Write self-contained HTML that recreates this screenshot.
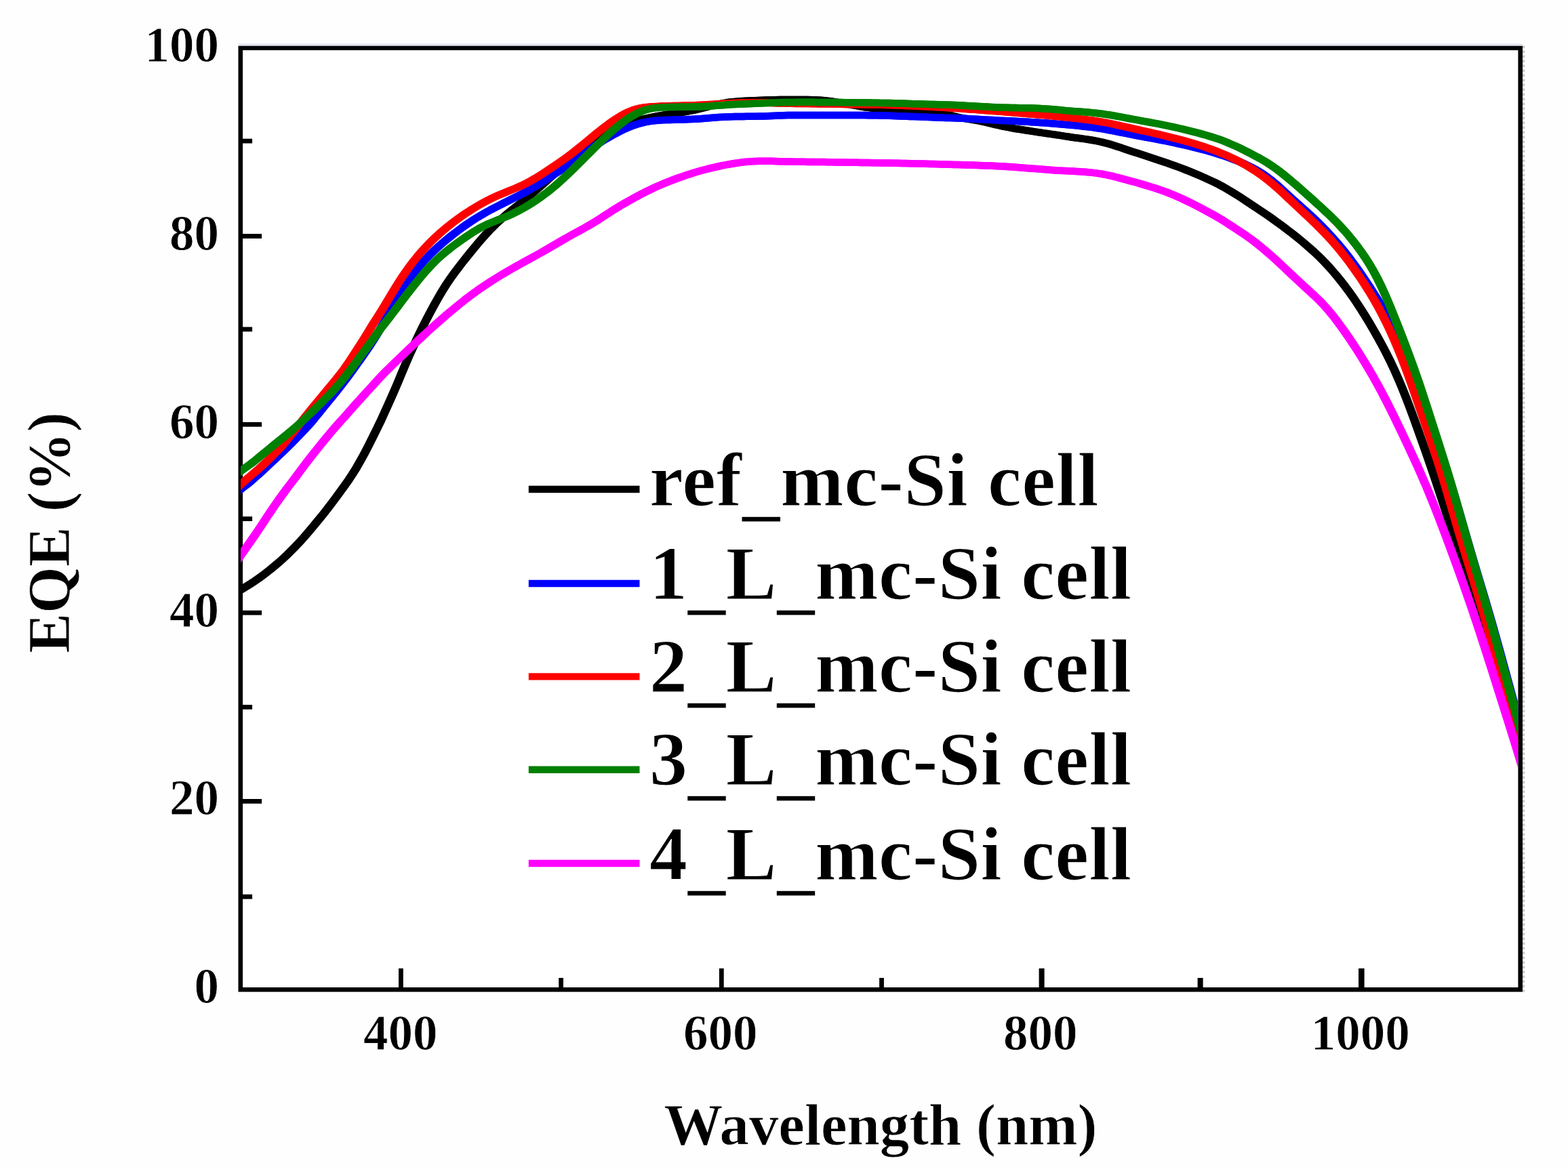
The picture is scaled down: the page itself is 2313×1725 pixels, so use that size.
<!DOCTYPE html>
<html lang="en">
<head>
<meta charset="utf-8">
<title>EQE vs Wavelength</title>
<style>
html,body{margin:0;padding:0;background:#fefefe;}
body{width:2313px;height:1725px;overflow:hidden;}
svg{display:block;}
text{font-family:'Liberation Serif','Times New Roman',Times,serif;font-weight:bold;fill:#000;stroke:#fefefe;stroke-width:0.8px;}
.tick{font-size:73px;}
.leg{font-size:112px;stroke:#ffffff;stroke-width:1.2px;}
.ttl{font-size:89px;}
</style>
</head>
<body>
<svg width="2313" height="1725" viewBox="0 0 2313 1725">
<rect x="0" y="0" width="2313" height="1725" fill="#fefefe"/>
<rect x="358" y="74" width="1881" height="1383" fill="#ffffff"/>

<rect x="354.8" y="70.8" width="1887.9" height="1389.5" fill="none" stroke="#000" stroke-width="6.6"/>
<g fill="#000"><rect x="354.8" y="204.7" width="17.3" height="6.8"/><rect x="354.8" y="345.1" width="31.3" height="6.8"/><rect x="354.8" y="482.5" width="17.3" height="6.8"/><rect x="354.8" y="622.9" width="31.3" height="6.8"/><rect x="354.8" y="762.2" width="17.3" height="6.8"/><rect x="354.8" y="900.8" width="31.3" height="6.8"/><rect x="354.8" y="1040.0" width="17.3" height="6.8"/><rect x="354.8" y="1179.0" width="31.3" height="6.8"/><rect x="354.8" y="1319.8" width="17.3" height="6.8"/><rect x="588.0" y="1429.0" width="6.8" height="31.3"/><rect x="824.2" y="1443.0" width="6.8" height="17.3"/><rect x="1060.9" y="1429.0" width="6.8" height="31.3"/><rect x="1297.1" y="1443.0" width="6.8" height="17.3"/><rect x="1532.6" y="1429.0" width="8.0" height="31.3"/><rect x="1766.6" y="1443.0" width="8.0" height="17.3"/><rect x="2004.0" y="1429.0" width="8.6" height="31.3"/></g>
<line x1="2247.6" y1="67.5" x2="2247.6" y2="1463.6" stroke="#c4c4c4" stroke-width="3" stroke-dasharray="3.5 3.5"/>
<line x1="351.5" y1="66" x2="2246" y2="66" stroke="#e4e2f0" stroke-width="3"/>
<clipPath id="c"><rect x="355.2" y="60" width="1884" height="1400"/></clipPath>
<defs>
<path id="c-black" d="M340.0,878.9 346.0,875.5 352.0,872.1 358.0,868.6 364.0,865.0 370.0,861.2 376.0,857.3 382.0,853.1 388.0,848.7 394.0,844.1 400.0,839.4 406.0,834.4 412.0,829.3 418.0,823.9 424.0,818.3 430.0,812.3 436.0,806.2 442.0,799.8 448.0,793.2 454.0,786.3 460.0,779.2 466.0,771.9 472.0,764.6 478.0,757.2 484.0,749.5 490.0,741.6 496.0,733.6 502.0,725.4 508.0,717.2 514.0,708.7 520.0,699.6 526.0,689.9 532.0,679.4 538.0,668.4 544.0,656.8 550.0,644.9 556.0,632.7 562.0,620.4 568.0,607.2 574.0,593.8 580.0,580.4 586.0,566.5 592.0,552.1 598.0,537.8 604.0,523.8 610.0,510.8 616.0,498.1 622.0,485.6 628.0,473.7 634.0,462.1 640.0,450.9 646.0,440.2 652.0,430.0 658.0,420.4 664.0,411.5 670.0,403.1 676.0,395.2 682.0,387.4 688.0,379.9 694.0,372.4 700.0,365.1 706.0,357.9 712.0,351.0 718.0,344.3 724.0,338.0 730.0,332.0 736.0,326.3 742.0,320.9 748.0,315.8 754.0,310.9 760.0,306.2 766.0,301.5 772.0,296.7 778.0,291.7 784.0,286.6 790.0,281.4 796.0,276.1 802.0,270.8 808.0,265.4 814.0,259.9 820.0,254.3 826.0,248.6 832.0,242.9 838.0,237.1 844.0,231.4 850.0,225.8 856.0,220.6 862.0,215.7 868.0,211.1 874.0,207.0 880.0,203.2 886.0,199.8 892.0,196.6 898.0,193.6 904.0,190.8 910.0,188.2 916.0,185.8 922.0,183.5 928.0,181.5 934.0,179.6 940.0,177.9 946.0,176.3 952.0,174.9 958.0,173.6 964.0,172.4 970.0,171.2 976.0,170.2 982.0,169.2 988.0,168.3 994.0,167.4 1000.0,166.6 1006.0,165.7 1012.0,164.8 1018.0,163.7 1024.0,162.5 1030.0,161.2 1036.0,159.7 1042.0,158.1 1048.0,156.5 1054.0,155.0 1060.0,153.6 1066.0,152.4 1072.0,151.3 1078.0,150.5 1084.0,149.9 1090.0,149.4 1096.0,149.0 1102.0,148.7 1108.0,148.4 1114.0,148.2 1120.0,148.0 1126.0,147.8 1132.0,147.6 1138.0,147.4 1144.0,147.2 1150.0,147.0 1156.0,146.9 1162.0,146.9 1168.0,146.9 1174.0,146.9 1180.0,146.9 1186.0,147.0 1192.0,147.1 1198.0,147.2 1204.0,147.4 1210.0,147.8 1216.0,148.3 1222.0,148.9 1228.0,149.8 1234.0,150.7 1240.0,151.8 1246.0,152.9 1252.0,154.0 1258.0,155.1 1264.0,156.2 1270.0,157.3 1276.0,158.2 1282.0,159.0 1288.0,159.7 1294.0,160.3 1300.0,160.7 1306.0,161.1 1312.0,161.5 1318.0,161.8 1324.0,162.1 1330.0,162.4 1336.0,162.7 1342.0,163.1 1348.0,163.4 1354.0,163.8 1360.0,164.2 1366.0,164.7 1372.0,165.2 1378.0,165.9 1384.0,166.7 1390.0,167.7 1396.0,168.8 1402.0,170.2 1408.0,171.6 1414.0,173.0 1420.0,174.3 1426.0,175.4 1432.0,176.4 1438.0,177.3 1444.0,178.3 1450.0,179.5 1456.0,180.8 1462.0,182.3 1468.0,183.8 1474.0,185.2 1480.0,186.5 1486.0,187.7 1492.0,188.8 1498.0,190.0 1504.0,190.9 1510.0,191.8 1516.0,192.7 1522.0,193.6 1528.0,194.6 1534.0,195.5 1540.0,196.4 1546.0,197.3 1552.0,198.1 1558.0,199.0 1564.0,199.9 1570.0,200.9 1576.0,201.8 1582.0,202.7 1588.0,203.5 1594.0,204.3 1600.0,205.1 1606.0,206.0 1612.0,207.0 1618.0,208.1 1624.0,209.3 1630.0,210.8 1636.0,212.4 1642.0,214.2 1648.0,216.2 1654.0,218.1 1660.0,220.2 1666.0,222.2 1672.0,224.2 1678.0,226.1 1684.0,228.1 1690.0,230.0 1696.0,231.9 1702.0,233.9 1708.0,235.9 1714.0,237.9 1720.0,239.9 1726.0,242.1 1732.0,244.2 1738.0,246.4 1744.0,248.7 1750.0,251.0 1756.0,253.4 1762.0,255.9 1768.0,258.4 1774.0,261.0 1780.0,263.7 1786.0,266.5 1792.0,269.3 1798.0,272.3 1804.0,275.5 1810.0,279.0 1816.0,282.5 1822.0,286.2 1828.0,289.9 1834.0,293.8 1840.0,297.8 1846.0,301.8 1852.0,305.9 1858.0,309.8 1864.0,313.8 1870.0,317.9 1876.0,322.1 1882.0,326.4 1888.0,330.8 1894.0,335.2 1900.0,339.8 1906.0,344.4 1912.0,349.2 1918.0,354.0 1924.0,359.0 1930.0,364.2 1936.0,369.5 1942.0,375.0 1948.0,380.8 1954.0,386.9 1960.0,393.3 1966.0,400.1 1972.0,407.2 1978.0,414.6 1984.0,422.3 1990.0,430.4 1996.0,438.8 2002.0,447.6 2008.0,456.9 2014.0,466.4 2020.0,476.3 2026.0,486.6 2032.0,497.1 2038.0,508.0 2044.0,519.4 2050.0,531.3 2056.0,543.9 2062.0,557.3 2068.0,571.5 2074.0,586.5 2080.0,602.2 2086.0,618.4 2092.0,635.1 2098.0,652.0 2104.0,669.1 2110.0,686.4 2116.0,703.9 2122.0,721.8 2128.0,740.0 2134.0,758.6 2140.0,777.5 2146.0,796.7 2152.0,815.7 2158.0,834.5 2164.0,852.9 2170.0,871.1 2176.0,889.2 2182.0,907.6 2188.0,926.5 2194.0,946.0 2200.0,966.0 2206.0,986.3 2212.0,1006.8 2218.0,1027.3 2224.0,1047.8 2230.0,1068.3 2236.0,1088.8 2242.0,1109.5 2248.0,1130.3 2254.0,1151.2"/>
<path id="c-blue" d="M340.0,734.7 346.0,729.5 352.0,724.3 358.0,719.6 364.0,715.1 370.0,710.1 376.0,704.9 382.0,699.5 388.0,694.1 394.0,688.5 400.0,682.8 406.0,677.2 412.0,671.5 418.0,665.7 424.0,659.9 430.0,654.0 436.0,647.9 442.0,641.7 448.0,635.4 454.0,629.0 460.0,622.3 466.0,614.8 472.0,607.4 478.0,600.0 484.0,592.6 490.0,585.3 496.0,577.9 502.0,570.3 508.0,562.6 514.0,554.6 520.0,546.4 526.0,538.0 532.0,529.6 538.0,521.0 544.0,512.2 550.0,503.1 556.0,493.5 562.0,483.5 568.0,473.2 574.0,462.5 580.0,451.7 586.0,441.0 592.0,430.7 598.0,420.9 604.0,412.0 610.0,403.7 616.0,396.1 622.0,389.0 628.0,382.3 634.0,376.1 640.0,370.2 646.0,364.7 652.0,359.3 658.0,354.3 664.0,349.4 670.0,344.6 676.0,340.1 682.0,335.6 688.0,331.4 694.0,327.3 700.0,323.4 706.0,319.7 712.0,316.2 718.0,312.8 724.0,309.5 730.0,306.4 736.0,303.3 742.0,300.3 748.0,297.3 754.0,294.3 760.0,291.2 766.0,288.2 772.0,285.1 778.0,281.8 784.0,278.4 790.0,274.9 796.0,271.2 802.0,267.4 808.0,263.4 814.0,259.5 820.0,255.6 826.0,251.8 832.0,248.0 838.0,244.1 844.0,240.0 850.0,235.5 856.0,230.9 862.0,226.2 868.0,221.7 874.0,217.5 880.0,213.5 886.0,209.7 892.0,206.1 898.0,202.6 904.0,199.2 910.0,196.0 916.0,192.9 922.0,190.1 928.0,187.5 934.0,185.2 940.0,183.2 946.0,181.6 952.0,180.2 958.0,179.1 964.0,178.3 970.0,177.8 976.0,177.3 982.0,177.1 988.0,176.9 994.0,176.7 1000.0,176.6 1006.0,176.4 1012.0,176.3 1018.0,176.0 1024.0,175.7 1030.0,175.4 1036.0,175.0 1042.0,174.5 1048.0,174.0 1054.0,173.6 1060.0,173.1 1066.0,172.8 1072.0,172.5 1078.0,172.2 1084.0,172.1 1090.0,172.0 1096.0,171.9 1102.0,171.8 1108.0,171.8 1114.0,171.7 1120.0,171.6 1126.0,171.4 1132.0,171.2 1138.0,170.9 1144.0,170.7 1150.0,170.4 1156.0,170.2 1162.0,170.1 1168.0,170.0 1174.0,169.9 1180.0,169.9 1186.0,169.9 1192.0,169.9 1198.0,169.9 1204.0,169.9 1210.0,169.9 1216.0,169.9 1222.0,169.9 1228.0,169.9 1234.0,169.9 1240.0,170.0 1246.0,170.0 1252.0,170.0 1258.0,170.0 1264.0,170.0 1270.0,170.1 1276.0,170.1 1282.0,170.2 1288.0,170.2 1294.0,170.3 1300.0,170.5 1306.0,170.6 1312.0,170.8 1318.0,171.0 1324.0,171.2 1330.0,171.4 1336.0,171.6 1342.0,171.9 1348.0,172.1 1354.0,172.3 1360.0,172.6 1366.0,172.8 1372.0,173.1 1378.0,173.3 1384.0,173.5 1390.0,173.7 1396.0,173.9 1402.0,174.1 1408.0,174.3 1414.0,174.6 1420.0,174.8 1426.0,175.1 1432.0,175.4 1438.0,175.7 1444.0,176.0 1450.0,176.4 1456.0,176.7 1462.0,177.0 1468.0,177.3 1474.0,177.7 1480.0,178.0 1486.0,178.3 1492.0,178.6 1498.0,178.8 1504.0,179.2 1510.0,179.5 1516.0,179.8 1522.0,180.2 1528.0,180.5 1534.0,180.9 1540.0,181.3 1546.0,181.8 1552.0,182.2 1558.0,182.7 1564.0,183.2 1570.0,183.7 1576.0,184.2 1582.0,184.8 1588.0,185.4 1594.0,186.0 1600.0,186.7 1606.0,187.4 1612.0,188.1 1618.0,189.0 1624.0,189.9 1630.0,190.9 1636.0,192.0 1642.0,193.1 1648.0,194.3 1654.0,195.5 1660.0,196.7 1666.0,197.9 1672.0,199.1 1678.0,200.3 1684.0,201.4 1690.0,202.5 1696.0,203.6 1702.0,204.7 1708.0,205.8 1714.0,207.0 1720.0,208.2 1726.0,209.4 1732.0,210.7 1738.0,212.0 1744.0,213.3 1750.0,214.7 1756.0,216.1 1762.0,217.6 1768.0,219.1 1774.0,220.7 1780.0,222.3 1786.0,224.0 1792.0,225.8 1798.0,227.6 1804.0,229.5 1810.0,231.5 1816.0,233.7 1822.0,236.0 1828.0,238.4 1834.0,241.0 1840.0,243.9 1846.0,246.9 1852.0,250.1 1858.0,253.7 1864.0,257.5 1870.0,261.8 1876.0,266.4 1882.0,271.5 1888.0,276.8 1894.0,282.3 1900.0,287.9 1906.0,293.4 1912.0,298.7 1918.0,304.1 1924.0,309.4 1930.0,314.8 1936.0,320.4 1942.0,326.1 1948.0,332.0 1954.0,338.1 1960.0,344.5 1966.0,351.1 1972.0,357.9 1978.0,365.0 1984.0,372.4 1990.0,380.1 1996.0,388.1 2002.0,396.4 2008.0,405.0 2014.0,413.9 2020.0,423.0 2026.0,432.4 2032.0,441.9 2038.0,451.7 2044.0,461.8 2050.0,472.4 2056.0,483.6 2062.0,495.5 2068.0,508.3 2074.0,522.2 2080.0,537.1 2086.0,553.0 2092.0,569.8 2098.0,587.3 2104.0,605.0 2110.0,622.8 2116.0,640.5 2122.0,658.1 2128.0,675.9 2134.0,694.2 2140.0,713.3 2146.0,733.2 2152.0,753.7 2158.0,774.5 2164.0,795.4 2170.0,816.0 2176.0,836.3 2182.0,856.3 2188.0,876.3 2194.0,896.5 2200.0,917.2 2206.0,938.4 2212.0,960.0 2218.0,981.9 2224.0,1003.9 2230.0,1025.9 2236.0,1047.7 2242.0,1069.4 2248.0,1091.0 2254.0,1112.6"/>
<path id="c-red" d="M340.0,730.9 346.0,724.5 352.0,718.0 358.0,712.2 364.0,707.1 370.0,701.9 376.0,696.8 382.0,691.7 388.0,686.2 394.0,680.4 400.0,674.5 406.0,668.5 412.0,662.4 418.0,655.7 424.0,648.4 430.0,641.0 436.0,633.4 442.0,625.7 448.0,618.1 454.0,610.5 460.0,603.1 466.0,595.7 472.0,588.5 478.0,581.3 484.0,574.1 490.0,566.9 496.0,559.5 502.0,551.9 508.0,544.1 514.0,535.4 520.0,526.4 526.0,517.1 532.0,507.7 538.0,498.2 544.0,488.4 550.0,478.6 556.0,469.4 562.0,459.8 568.0,450.0 574.0,440.0 580.0,430.0 586.0,420.2 592.0,410.8 598.0,402.0 604.0,393.7 610.0,385.7 616.0,378.2 622.0,371.2 628.0,364.6 634.0,358.3 640.0,352.4 646.0,346.9 652.0,341.5 658.0,336.4 664.0,331.6 670.0,326.9 676.0,322.5 682.0,318.2 688.0,314.2 694.0,310.3 700.0,306.6 706.0,303.0 712.0,299.6 718.0,296.4 724.0,293.3 730.0,290.5 736.0,287.8 742.0,285.3 748.0,282.8 754.0,280.4 760.0,278.0 766.0,275.4 772.0,272.7 778.0,269.7 784.0,266.4 790.0,262.9 796.0,259.2 802.0,255.3 808.0,251.4 814.0,247.4 820.0,243.4 826.0,239.3 832.0,235.1 838.0,230.7 844.0,226.2 850.0,221.5 856.0,216.7 862.0,211.8 868.0,206.9 874.0,201.9 880.0,196.9 886.0,192.1 892.0,187.4 898.0,182.8 904.0,178.6 910.0,174.6 916.0,170.9 922.0,167.6 928.0,164.8 934.0,162.4 940.0,160.6 946.0,159.2 952.0,158.2 958.0,157.6 964.0,157.2 970.0,156.9 976.0,156.6 982.0,156.5 988.0,156.3 994.0,156.1 1000.0,156.0 1006.0,155.8 1012.0,155.6 1018.0,155.4 1024.0,155.2 1030.0,155.0 1036.0,154.7 1042.0,154.4 1048.0,154.0 1054.0,153.7 1060.0,153.3 1066.0,153.0 1072.0,152.6 1078.0,152.3 1084.0,152.0 1090.0,151.7 1096.0,151.5 1102.0,151.3 1108.0,151.2 1114.0,151.2 1120.0,151.3 1126.0,151.5 1132.0,151.7 1138.0,152.0 1144.0,152.2 1150.0,152.4 1156.0,152.5 1162.0,152.7 1168.0,152.8 1174.0,152.9 1180.0,152.9 1186.0,153.0 1192.0,153.1 1198.0,153.2 1204.0,153.3 1210.0,153.4 1216.0,153.5 1222.0,153.6 1228.0,153.6 1234.0,153.7 1240.0,153.8 1246.0,153.9 1252.0,154.0 1258.0,154.1 1264.0,154.2 1270.0,154.3 1276.0,154.3 1282.0,154.4 1288.0,154.5 1294.0,154.6 1300.0,154.8 1306.0,154.9 1312.0,155.1 1318.0,155.2 1324.0,155.4 1330.0,155.6 1336.0,155.9 1342.0,156.1 1348.0,156.4 1354.0,156.7 1360.0,157.0 1366.0,157.3 1372.0,157.6 1378.0,157.9 1384.0,158.3 1390.0,158.6 1396.0,159.0 1402.0,159.3 1408.0,159.7 1414.0,160.1 1420.0,160.5 1426.0,161.0 1432.0,161.4 1438.0,161.8 1444.0,162.3 1450.0,162.7 1456.0,163.2 1462.0,163.7 1468.0,164.1 1474.0,164.6 1480.0,165.1 1486.0,165.6 1492.0,166.1 1498.0,166.5 1504.0,167.0 1510.0,167.5 1516.0,168.0 1522.0,168.5 1528.0,169.0 1534.0,169.5 1540.0,170.1 1546.0,170.6 1552.0,171.2 1558.0,171.8 1564.0,172.4 1570.0,173.0 1576.0,173.6 1582.0,174.2 1588.0,174.9 1594.0,175.5 1600.0,176.2 1606.0,177.0 1612.0,177.8 1618.0,178.7 1624.0,179.7 1630.0,180.7 1636.0,181.9 1642.0,183.2 1648.0,184.5 1654.0,185.8 1660.0,187.2 1666.0,188.5 1672.0,189.9 1678.0,191.2 1684.0,192.6 1690.0,193.9 1696.0,195.2 1702.0,196.6 1708.0,197.9 1714.0,199.3 1720.0,200.8 1726.0,202.3 1732.0,203.8 1738.0,205.3 1744.0,206.9 1750.0,208.6 1756.0,210.3 1762.0,212.0 1768.0,213.9 1774.0,215.8 1780.0,217.9 1786.0,220.0 1792.0,222.2 1798.0,224.6 1804.0,227.1 1810.0,229.6 1816.0,232.4 1822.0,235.3 1828.0,238.3 1834.0,241.6 1840.0,245.0 1846.0,248.7 1852.0,252.5 1858.0,256.6 1864.0,260.9 1870.0,265.5 1876.0,270.4 1882.0,275.5 1888.0,280.9 1894.0,286.4 1900.0,292.1 1906.0,297.7 1912.0,303.3 1918.0,309.0 1924.0,314.6 1930.0,320.3 1936.0,326.0 1942.0,331.8 1948.0,337.7 1954.0,343.8 1960.0,350.2 1966.0,356.8 1972.0,363.7 1978.0,370.9 1984.0,378.5 1990.0,386.4 1996.0,394.6 2002.0,403.1 2008.0,411.9 2014.0,421.1 2020.0,430.6 2026.0,440.6 2032.0,451.1 2038.0,462.3 2044.0,474.1 2050.0,486.6 2056.0,499.9 2062.0,513.9 2068.0,528.8 2074.0,544.5 2080.0,560.9 2086.0,577.9 2092.0,595.2 2098.0,612.7 2104.0,630.3 2110.0,648.0 2116.0,666.0 2122.0,684.6 2128.0,703.9 2134.0,723.8 2140.0,744.2 2146.0,764.8 2152.0,785.2 2158.0,805.4 2164.0,825.2 2170.0,844.7 2176.0,864.1 2182.0,883.7 2188.0,903.6 2194.0,924.2 2200.0,945.3 2206.0,966.9 2212.0,988.7 2218.0,1010.4 2224.0,1031.9 2230.0,1053.0 2236.0,1073.8 2242.0,1094.4 2248.0,1115.0 2254.0,1135.7"/>
<path id="c-green" d="M340.0,707.7 346.0,702.6 352.0,697.6 358.0,692.9 364.0,688.7 370.0,684.5 376.0,679.8 382.0,674.9 388.0,669.9 394.0,665.0 400.0,660.1 406.0,655.1 412.0,650.2 418.0,645.5 424.0,640.6 430.0,635.6 436.0,630.4 442.0,625.1 448.0,619.6 454.0,613.9 460.0,608.2 466.0,602.3 472.0,596.4 478.0,590.4 484.0,584.4 490.0,578.3 496.0,571.6 502.0,564.8 508.0,557.4 514.0,549.7 520.0,541.8 526.0,533.8 532.0,525.5 538.0,517.3 544.0,509.2 550.0,501.0 556.0,492.7 562.0,484.3 568.0,476.7 574.0,469.0 580.0,461.1 586.0,453.2 592.0,445.2 598.0,437.3 604.0,429.5 610.0,421.9 616.0,414.5 622.0,407.2 628.0,400.2 634.0,393.6 640.0,387.4 646.0,381.6 652.0,376.2 658.0,371.2 664.0,366.4 670.0,361.9 676.0,357.5 682.0,353.3 688.0,349.1 694.0,345.1 700.0,341.3 706.0,337.7 712.0,334.4 718.0,331.4 724.0,328.8 730.0,326.3 736.0,324.0 742.0,321.6 748.0,319.1 754.0,316.4 760.0,313.5 766.0,310.5 772.0,307.2 778.0,303.7 784.0,300.0 790.0,296.1 796.0,292.0 802.0,287.6 808.0,283.1 814.0,278.2 820.0,273.2 826.0,267.9 832.0,262.4 838.0,256.7 844.0,250.9 850.0,245.0 856.0,239.0 862.0,233.0 868.0,227.0 874.0,221.0 880.0,215.0 886.0,209.2 892.0,203.4 898.0,197.8 904.0,192.5 910.0,187.3 916.0,182.5 922.0,178.0 928.0,173.9 934.0,170.3 940.0,167.1 946.0,164.4 952.0,162.3 958.0,160.7 964.0,159.6 970.0,158.9 976.0,158.4 982.0,158.2 988.0,158.0 994.0,157.9 1000.0,157.8 1006.0,157.8 1012.0,157.8 1018.0,157.7 1024.0,157.6 1030.0,157.5 1036.0,157.2 1042.0,156.9 1048.0,156.6 1054.0,156.1 1060.0,155.6 1066.0,155.2 1072.0,154.7 1078.0,154.3 1084.0,154.0 1090.0,153.7 1096.0,153.4 1102.0,153.2 1108.0,153.0 1114.0,152.8 1120.0,152.6 1126.0,152.3 1132.0,152.0 1138.0,151.8 1144.0,151.5 1150.0,151.3 1156.0,151.1 1162.0,151.0 1168.0,150.9 1174.0,150.9 1180.0,150.8 1186.0,150.8 1192.0,150.8 1198.0,150.8 1204.0,150.9 1210.0,150.9 1216.0,150.9 1222.0,150.9 1228.0,151.0 1234.0,151.0 1240.0,151.1 1246.0,151.2 1252.0,151.2 1258.0,151.3 1264.0,151.4 1270.0,151.5 1276.0,151.5 1282.0,151.6 1288.0,151.7 1294.0,151.8 1300.0,151.9 1306.0,152.0 1312.0,152.1 1318.0,152.3 1324.0,152.4 1330.0,152.6 1336.0,152.8 1342.0,153.0 1348.0,153.2 1354.0,153.3 1360.0,153.5 1366.0,153.7 1372.0,153.9 1378.0,154.1 1384.0,154.2 1390.0,154.4 1396.0,154.6 1402.0,154.8 1408.0,155.0 1414.0,155.3 1420.0,155.6 1426.0,155.9 1432.0,156.2 1438.0,156.6 1444.0,156.9 1450.0,157.3 1456.0,157.6 1462.0,157.9 1468.0,158.2 1474.0,158.5 1480.0,158.7 1486.0,158.8 1492.0,159.0 1498.0,159.1 1504.0,159.2 1510.0,159.2 1516.0,159.3 1522.0,159.5 1528.0,159.7 1534.0,160.0 1540.0,160.4 1546.0,160.8 1552.0,161.3 1558.0,161.8 1564.0,162.3 1570.0,162.9 1576.0,163.4 1582.0,163.9 1588.0,164.4 1594.0,164.8 1600.0,165.3 1606.0,165.8 1612.0,166.4 1618.0,167.0 1624.0,167.8 1630.0,168.6 1636.0,169.5 1642.0,170.5 1648.0,171.6 1654.0,172.7 1660.0,173.8 1666.0,175.0 1672.0,176.1 1678.0,177.2 1684.0,178.3 1690.0,179.4 1696.0,180.5 1702.0,181.6 1708.0,182.7 1714.0,183.9 1720.0,185.1 1726.0,186.3 1732.0,187.6 1738.0,189.0 1744.0,190.4 1750.0,191.8 1756.0,193.3 1762.0,194.8 1768.0,196.4 1774.0,198.1 1780.0,199.8 1786.0,201.6 1792.0,203.5 1798.0,205.4 1804.0,207.7 1810.0,210.1 1816.0,212.7 1822.0,215.3 1828.0,218.1 1834.0,221.0 1840.0,224.0 1846.0,227.1 1852.0,230.3 1858.0,233.5 1864.0,237.0 1870.0,240.6 1876.0,244.6 1882.0,248.8 1888.0,253.3 1894.0,258.0 1900.0,262.9 1906.0,268.0 1912.0,273.1 1918.0,278.3 1924.0,283.6 1930.0,289.0 1936.0,294.3 1942.0,299.8 1948.0,305.2 1954.0,310.8 1960.0,316.4 1966.0,322.2 1972.0,328.3 1978.0,334.6 1984.0,341.2 1990.0,348.2 1996.0,355.6 2002.0,363.3 2008.0,371.5 2014.0,380.2 2020.0,389.6 2026.0,399.9 2032.0,411.1 2038.0,423.4 2044.0,436.7 2050.0,450.8 2056.0,465.6 2062.0,480.7 2068.0,496.2 2074.0,511.9 2080.0,528.0 2086.0,544.6 2092.0,561.8 2098.0,579.7 2104.0,598.0 2110.0,616.6 2116.0,635.3 2122.0,654.0 2128.0,673.0 2134.0,692.3 2140.0,712.3 2146.0,732.8 2152.0,753.8 2158.0,775.0 2164.0,796.2 2170.0,817.0 2176.0,837.6 2182.0,858.0 2188.0,878.4 2194.0,899.1 2200.0,920.3 2206.0,941.9 2212.0,963.8 2218.0,985.8 2224.0,1007.8 2230.0,1029.7 2236.0,1051.6 2242.0,1073.4 2248.0,1095.2 2254.0,1116.9"/>
<path id="c-magenta" d="M340.0,841.7 346.0,832.9 352.0,824.1 358.0,815.5 364.0,806.9 370.0,798.4 376.0,789.7 382.0,780.9 388.0,771.8 394.0,762.7 400.0,753.8 406.0,744.9 412.0,736.4 418.0,728.1 424.0,719.9 430.0,712.1 436.0,704.2 442.0,696.2 448.0,688.2 454.0,680.3 460.0,672.6 466.0,665.0 472.0,657.5 478.0,650.1 484.0,642.8 490.0,635.7 496.0,628.8 502.0,622.1 508.0,615.4 514.0,608.6 520.0,601.8 526.0,595.1 532.0,588.4 538.0,581.8 544.0,575.3 550.0,568.7 556.0,562.0 562.0,555.5 568.0,549.3 574.0,543.4 580.0,537.6 586.0,531.8 592.0,526.1 598.0,520.3 604.0,514.5 610.0,508.8 616.0,503.2 622.0,497.6 628.0,492.0 634.0,486.5 640.0,481.1 646.0,475.8 652.0,470.5 658.0,465.3 664.0,460.2 670.0,455.2 676.0,450.3 682.0,445.5 688.0,440.7 694.0,436.1 700.0,431.7 706.0,427.4 712.0,423.3 718.0,419.3 724.0,415.4 730.0,411.6 736.0,407.9 742.0,404.3 748.0,400.7 754.0,397.3 760.0,393.9 766.0,390.5 772.0,387.2 778.0,383.9 784.0,380.6 790.0,377.3 796.0,374.0 802.0,370.6 808.0,367.1 814.0,363.6 820.0,360.1 826.0,356.6 832.0,353.1 838.0,349.7 844.0,346.4 850.0,343.1 856.0,339.8 862.0,336.5 868.0,333.1 874.0,329.6 880.0,326.0 886.0,322.1 892.0,318.2 898.0,314.3 904.0,310.4 910.0,306.7 916.0,303.1 922.0,299.6 928.0,296.2 934.0,292.9 940.0,289.6 946.0,286.4 952.0,283.3 958.0,280.4 964.0,277.5 970.0,274.8 976.0,272.2 982.0,269.7 988.0,267.3 994.0,265.0 1000.0,262.8 1006.0,260.7 1012.0,258.6 1018.0,256.7 1024.0,254.8 1030.0,253.0 1036.0,251.3 1042.0,249.7 1048.0,248.2 1054.0,246.8 1060.0,245.5 1066.0,244.2 1072.0,243.1 1078.0,242.0 1084.0,241.0 1090.0,240.1 1096.0,239.3 1102.0,238.7 1108.0,238.2 1114.0,237.9 1120.0,237.7 1126.0,237.7 1132.0,237.7 1138.0,237.8 1144.0,238.0 1150.0,238.2 1156.0,238.3 1162.0,238.5 1168.0,238.6 1174.0,238.7 1180.0,238.8 1186.0,238.8 1192.0,238.9 1198.0,238.9 1204.0,239.0 1210.0,239.1 1216.0,239.1 1222.0,239.2 1228.0,239.3 1234.0,239.4 1240.0,239.5 1246.0,239.6 1252.0,239.7 1258.0,239.8 1264.0,239.8 1270.0,239.9 1276.0,240.0 1282.0,240.1 1288.0,240.2 1294.0,240.3 1300.0,240.4 1306.0,240.5 1312.0,240.6 1318.0,240.7 1324.0,240.8 1330.0,240.9 1336.0,241.1 1342.0,241.2 1348.0,241.3 1354.0,241.5 1360.0,241.6 1366.0,241.8 1372.0,241.9 1378.0,242.1 1384.0,242.2 1390.0,242.4 1396.0,242.6 1402.0,242.8 1408.0,242.9 1414.0,243.1 1420.0,243.3 1426.0,243.5 1432.0,243.6 1438.0,243.8 1444.0,244.0 1450.0,244.2 1456.0,244.4 1462.0,244.6 1468.0,244.9 1474.0,245.2 1480.0,245.5 1486.0,245.9 1492.0,246.3 1498.0,246.8 1504.0,247.3 1510.0,247.7 1516.0,248.2 1522.0,248.7 1528.0,249.1 1534.0,249.6 1540.0,250.0 1546.0,250.5 1552.0,250.9 1558.0,251.4 1564.0,251.7 1570.0,252.0 1576.0,252.3 1582.0,252.6 1588.0,252.9 1594.0,253.3 1600.0,253.7 1606.0,254.3 1612.0,254.9 1618.0,255.6 1624.0,256.5 1630.0,257.6 1636.0,258.8 1642.0,260.2 1648.0,261.8 1654.0,263.4 1660.0,265.0 1666.0,266.6 1672.0,268.2 1678.0,269.8 1684.0,271.6 1690.0,273.4 1696.0,275.2 1702.0,277.1 1708.0,279.0 1714.0,281.1 1720.0,283.2 1726.0,285.6 1732.0,288.0 1738.0,290.6 1744.0,293.3 1750.0,296.2 1756.0,299.1 1762.0,302.1 1768.0,305.2 1774.0,308.4 1780.0,311.6 1786.0,314.9 1792.0,318.2 1798.0,321.6 1804.0,325.3 1810.0,329.1 1816.0,333.0 1822.0,336.9 1828.0,340.8 1834.0,344.8 1840.0,349.0 1846.0,353.3 1852.0,357.8 1858.0,362.6 1864.0,367.5 1870.0,372.7 1876.0,377.9 1882.0,383.3 1888.0,388.9 1894.0,394.5 1900.0,400.3 1906.0,405.9 1912.0,411.5 1918.0,417.1 1924.0,422.7 1930.0,428.2 1936.0,433.6 1942.0,439.3 1948.0,445.1 1954.0,451.5 1960.0,458.3 1966.0,465.6 1972.0,473.3 1978.0,481.5 1984.0,489.9 1990.0,498.6 1996.0,507.5 2002.0,516.7 2008.0,526.2 2014.0,535.9 2020.0,546.0 2026.0,556.4 2032.0,567.1 2038.0,578.2 2044.0,589.7 2050.0,601.6 2056.0,613.7 2062.0,626.1 2068.0,638.6 2074.0,651.2 2080.0,664.0 2086.0,677.0 2092.0,690.2 2098.0,703.8 2104.0,717.8 2110.0,732.2 2116.0,747.1 2122.0,762.4 2128.0,778.1 2134.0,794.0 2140.0,810.1 2146.0,826.4 2152.0,842.9 2158.0,859.7 2164.0,876.9 2170.0,894.3 2176.0,912.0 2182.0,930.1 2188.0,948.5 2194.0,967.1 2200.0,986.0 2206.0,1005.0 2212.0,1024.0 2218.0,1043.0 2224.0,1062.0 2230.0,1081.1 2236.0,1100.5 2242.0,1120.3 2248.0,1140.4 2254.0,1160.9"/>
</defs>
<g clip-path="url(#c)" fill="none" stroke-width="10.5" stroke-linejoin="round">
<g stroke="#000000"><use href="#c-black" x="-1.1"/><use href="#c-black" x="1.1"/></g>
<g stroke="#0000ff"><use href="#c-blue" x="-1.1"/><use href="#c-blue" x="1.1"/></g>
<g stroke="#ff0000"><use href="#c-red" x="-1.1"/><use href="#c-red" x="1.1"/></g>
<g stroke="#008000"><use href="#c-green" x="-1.1"/><use href="#c-green" x="1.1"/></g>
<g stroke="#ff00ff"><use href="#c-magenta" x="-1.1"/><use href="#c-magenta" x="1.1"/></g>
</g>
<text class="tick" x="323" y="1480.3" text-anchor="end">0</text>
<text class="tick" x="323" y="1202.4" text-anchor="end">20</text>
<text class="tick" x="323" y="924.5" text-anchor="end">40</text>
<text class="tick" x="323" y="646.6" text-anchor="end">60</text>
<text class="tick" x="323" y="368.7" text-anchor="end">80</text>
<text class="tick" x="323" y="90.8" text-anchor="end">100</text>
<text class="tick" x="590.8" y="1549" text-anchor="middle">400</text>
<text class="tick" x="1062.8" y="1549" text-anchor="middle">600</text>
<text class="tick" x="1534.7" y="1549" text-anchor="middle">800</text>
<text class="tick" x="2006.7" y="1549" text-anchor="middle">1000</text>
<text class="ttl" x="1299" y="1688.5" text-anchor="middle" style="font-size:86.8px">Wavelength (nm)</text>
<text class="ttl" transform="translate(101.7,786) rotate(-90)" text-anchor="middle" style="font-size:88.3px">EQE (%)</text>
<line x1="779.8" y1="722" x2="943.5" y2="722" stroke="#000000" stroke-width="10.4"/>
<text class="leg" x="958" y="745.5" style="letter-spacing:0.65px">ref<tspan dy="8.0">_</tspan><tspan dy="-8.0">mc-Si cell</tspan></text>
<line x1="779.8" y1="861" x2="943.5" y2="861" stroke="#0000ff" stroke-width="10.4"/>
<text class="leg" x="958" y="883.5" style="letter-spacing:0.38px">1<tspan dy="8.0">_</tspan><tspan dy="-8.0">L</tspan><tspan dy="8.0">_</tspan><tspan dy="-8.0">mc-Si cell</tspan></text>
<line x1="779.8" y1="998.4" x2="943.5" y2="998.4" stroke="#ff0000" stroke-width="10.4"/>
<text class="leg" x="958" y="1020.5" style="letter-spacing:0.38px">2<tspan dy="8.0">_</tspan><tspan dy="-8.0">L</tspan><tspan dy="8.0">_</tspan><tspan dy="-8.0">mc-Si cell</tspan></text>
<line x1="779.8" y1="1135.7" x2="943.5" y2="1135.7" stroke="#008000" stroke-width="10.4"/>
<text class="leg" x="958" y="1158.1" style="letter-spacing:0.38px">3<tspan dy="8.0">_</tspan><tspan dy="-8.0">L</tspan><tspan dy="8.0">_</tspan><tspan dy="-8.0">mc-Si cell</tspan></text>
<line x1="779.8" y1="1274" x2="943.5" y2="1274" stroke="#ff00ff" stroke-width="10.4"/>
<text class="leg" x="958" y="1297.9" style="letter-spacing:0.38px">4<tspan dy="8.0">_</tspan><tspan dy="-8.0">L</tspan><tspan dy="8.0">_</tspan><tspan dy="-8.0">mc-Si cell</tspan></text>
</svg>
</body>
</html>
